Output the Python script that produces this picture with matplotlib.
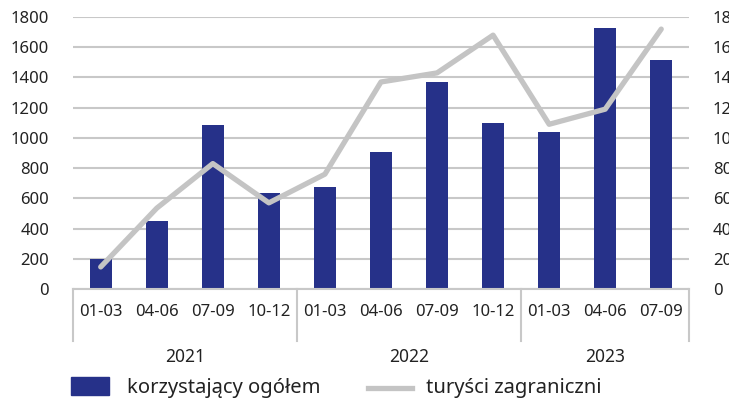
import matplotlib.pyplot as plt
from matplotlib.lines import Line2D
from matplotlib.patches import Rectangle

plt.rcParams['font.family'] = ['Noto Sans', 'DejaVu Sans']

# dane kwartalne
quarters = ["01-03", "04-06", "07-09", "10-12",
            "01-03", "04-06", "07-09", "10-12",
            "01-03", "04-06", "07-09"]
years = ["2021", "2022", "2023"]
year_sizes = [4, 4, 3]
ogolem = [200, 450, 1085, 633, 678, 904, 1370, 1098, 1041, 1730, 1514]
zagraniczni = [14.6, 53.5, 83, 57, 76, 137, 143, 168, 109, 119, 172]
legend_labels = ["korzystający ogółem", "turyści zagraniczni"]

bar_color = "#263189"
line_color = "#C4C4C4"
grid_color = "#C8C8C8"
text_color = "#222222"

W, H = 729, 401
fig = plt.figure(figsize=(W / 100, H / 100), dpi=100)
ax = fig.add_axes([0.0997, 0.2793, 0.8458, 0.6783])
x = list(range(len(quarters)))

ax.bar(x, ogolem, width=0.39, color=bar_color, zorder=2)
ax.set_xlim(-0.5, len(quarters) - 0.5)
ax.set_ylim(0, 1800)
ax.set_yticks(range(0, 1801, 200))
ax.yaxis.grid(True, color=grid_color, linewidth=1.5, zorder=0)
ax.set_axisbelow(True)
for s in ["top", "right", "left"]:
    ax.spines[s].set_visible(False)
ax.spines["bottom"].set_color(grid_color)
ax.spines["bottom"].set_linewidth(1.5)
ax.tick_params(axis="y", length=0, pad=17, labelsize=12, labelcolor=text_color)
ax.set_xticks(x)
ax.set_xticklabels(quarters)
ax.tick_params(axis="x", length=0, pad=11, labelsize=12, labelcolor=text_color)

# pionowe linie grupujace lata
bounds = [0]
for n in year_sizes:
    bounds.append(bounds[-1] + n)
for b in bounds:
    ax.plot([b - 0.5, b - 0.5], [0, -0.19], transform=ax.get_xaxis_transform(),
            color=grid_color, linewidth=1.5, clip_on=False)
for i, yr in enumerate(years):
    c = (bounds[i] + bounds[i + 1] - 1) / 2
    ax.text(c, -0.25, yr, transform=ax.get_xaxis_transform(), ha="center",
            va="center", fontsize=12.5, color=text_color)

ax2 = ax.twinx()
ax2.plot(x, zagraniczni, color=line_color, linewidth=3.8, zorder=3,
         solid_capstyle="round")
ax2.set_ylim(0, 180)
ax2.set_yticks(range(0, 181, 20))
for s in ["top", "right", "left", "bottom"]:
    ax2.spines[s].set_visible(False)
ax2.tick_params(axis="y", length=0, pad=17, labelsize=12, labelcolor=text_color)

# legenda rysowana recznie (pozycje w pikselach)
fig.add_artist(Rectangle((71 / W, 1 - 395 / H), 38 / W, 18 / H,
                         transform=fig.transFigure, color=bar_color))
fig.text(127 / W, 1 - 388 / H, legend_labels[0], fontsize=14.5,
         color=text_color, va="center", ha="left")
fig.add_artist(Line2D([368 / W, 412 / W], [1 - 388 / H, 1 - 388 / H],
                      transform=fig.transFigure, color=line_color, linewidth=3.8))
fig.text(426 / W, 1 - 388 / H, legend_labels[1], fontsize=14.5,
         color=text_color, va="center", ha="left")

fig.savefig("out.png", dpi=100)
